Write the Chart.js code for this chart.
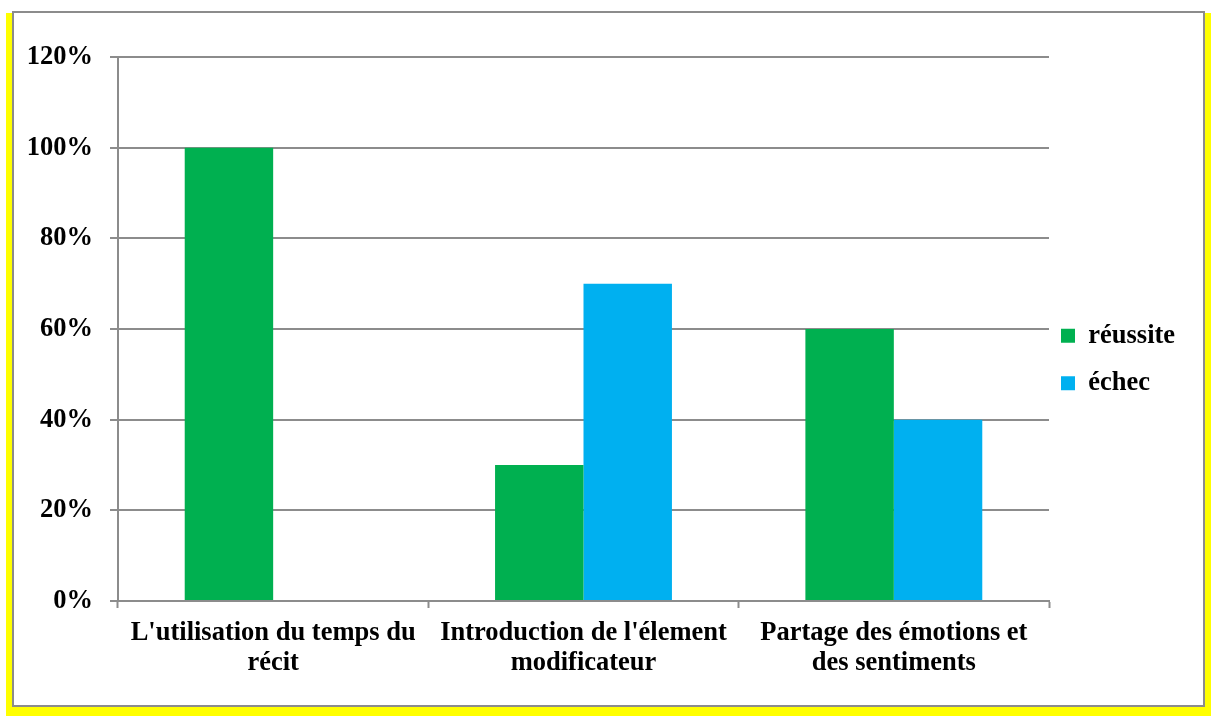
<!DOCTYPE html>
<html>
<head>
<meta charset="utf-8">
<script src="https://cdn.jsdelivr.net/npm/chart.js@4/dist/chart.umd.min.js"></script>
<style>
  html, body { margin: 0; padding: 0; background: #ffffff; }
  #wrap { position: relative; width: 1211px; height: 716px; overflow: hidden; }
  #shadow { position: absolute; left: 6px; top: 13px; width: 1205px; height: 703px; background: #ffff00; }
  #frame { position: absolute; left: 12px; top: 11px; width: 1189px; height: 692px; background: #ffffff; border: 2px solid #8c8c8c; }
  #chart { position: absolute; left: 0; top: 0; }
</style>
</head>
<body>
<div id="wrap">
  <div id="shadow"></div>
  <div id="frame"></div>
  <canvas id="chart" width="1211" height="716"></canvas>
</div>
<script>
const categories = [
    ["L'utilisation du temps du", "récit"],
    ["Introduction de l'élement", "modificateur"],
    ["Partage des émotions et", "des sentiments"]
];
const reussite = [1.0, 0.3, 0.6];
const echec = [0, 0.7, 0.4];
const seriesNames = ['réussite', 'échec'];

const greenColor = '#00b050';
const blueColor = '#00b0f0';
const gridColor = '#8c8c8c';
const textFont = { family: '"Liberation Serif", "Times New Roman", serif', size: 26.5, weight: 'bold' };

// nudge the legend so it sits where the original one does
const legendPlacement = {
    id: 'legendPlacement',
    afterInit(chart) {
        const lg = chart.legend;
        const origFit = lg.fit.bind(lg);
        lg.fit = function() {
            origFit();
            this.width = 162;
        };
    },
    afterLayout(chart) {
        const lg = chart.legend;
        lg.left -= 9; lg.right -= 9;
        lg.top -= 27; lg.bottom -= 27;
    }
};

const ctx = document.getElementById('chart').getContext('2d');
new Chart(ctx, {
    type: 'bar',
    data: {
        labels: categories,
        datasets: [{
            label: seriesNames[0],
            data: reussite,
            backgroundColor: greenColor,
            categoryPercentage: 0.57,
            barPercentage: 1.0
        }, {
            label: seriesNames[1],
            data: echec,
            backgroundColor: blueColor,
            categoryPercentage: 0.57,
            barPercentage: 1.0
        }]
    },
    options: {
        responsive: false,
        animation: false,
        layout: {
            padding: { left: 0, top: 57, right: 0, bottom: 0 }
        },
        plugins: {
            legend: {
                position: 'right',
                align: 'center',
                labels: {
                    color: '#000000',
                    font: textFont,
                    boxWidth: 14,
                    boxHeight: 14,
                    padding: 21
                }
            },
            tooltip: { enabled: false }
        },
        scales: {
            x: {
                afterFit(scale) { scale.height = 115; },
                grid: {
                    display: true,
                    offset: true,
                    drawOnChartArea: false,
                    drawTicks: true,
                    tickLength: 7,
                    tickWidth: 2,
                    tickColor: gridColor,
                    color: gridColor
                },
                border: { display: true, color: gridColor, width: 2 },
                ticks: {
                    color: '#000000',
                    font: Object.assign({}, textFont, { lineHeight: 1.13 }),
                    padding: 10,
                    maxRotation: 0,
                    autoSkip: false
                }
            },
            y: {
                min: 0,
                max: 1.2,
                afterFit(scale) { scale.width = 118; },
                grid: {
                    color: gridColor,
                    lineWidth: 2,
                    tickLength: 8,
                    tickWidth: 2,
                    tickColor: gridColor
                },
                border: { display: true, color: gridColor, width: 2 },
                ticks: {
                    stepSize: 0.2,
                    color: '#000000',
                    font: textFont,
                    padding: 17,
                    callback: function(value) {
                        return Math.round(value * 100) + '%';
                    }
                }
            }
        }
    },
    plugins: [legendPlacement]
});
</script>
</body>
</html>
